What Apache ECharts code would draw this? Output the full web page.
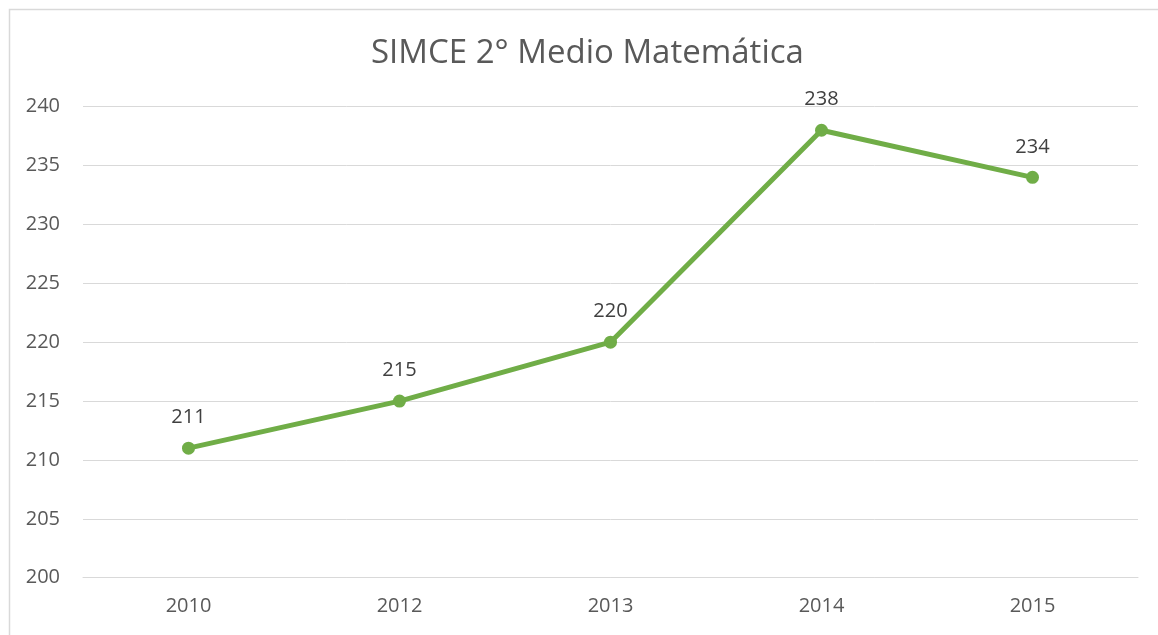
<!DOCTYPE html>
<html>
<head>
<meta charset="utf-8">
<script src="https://cdn.jsdelivr.net/npm/echarts@6/dist/echarts.min.js"></script>
<style>html,body{margin:0;padding:0;background:#fff}#c{width:1158px;height:635px}</style>
</head>
<body>
<div id="c"></div>
<script>
const titleText = 'SIMCE 2° Medio Matemática';
const years = ['2010', '2012', '2013', '2014', '2015'];
const scores = [211, 215, 220, 238, 234];
const yMin = 200, yMax = 240, yStep = 5;

const chart = echarts.init(document.getElementById('c'), null, {renderer: 'canvas'});
const font = '"Open Sans", "Liberation Sans", sans-serif';
chart.setOption({
  backgroundColor: '#ffffff',
  animation: false,
  graphic: [{
    type: 'rect', left: 7, top: 7, silent: true,
    shape: {x: 0, y: 0, width: 1300, height: 800},
    style: {fill: 'none', stroke: '#d9d9d9', lineWidth: 1.5}
  }],
  title: {
    text: titleText, left: 366, top: 32,
    textStyle: {fontFamily: font, fontSize: 33, fontWeight: 'normal', color: '#595959'}
  },
  grid: {left: 83, right: 20, top: 106.7, bottom: 57.3, containLabel: false},
  xAxis: {
    type: 'category', data: years, boundaryGap: true,
    axisLine: {lineStyle: {color: '#d9d9d9', width: 1}},
    axisTick: {show: false},
    axisLabel: {fontFamily: font, fontSize: 20, color: '#595959', margin: 19}
  },
  yAxis: {
    type: 'value', min: yMin, max: yMax, interval: yStep,
    axisLine: {show: false}, axisTick: {show: false},
    splitLine: {lineStyle: {color: '#d9d9d9', width: 1}},
    axisLabel: {fontFamily: font, fontSize: 20, color: '#595959', margin: 23}
  },
  series: [{
    type: 'line', data: scores,
    symbol: 'circle', symbolSize: 13,
    lineStyle: {color: '#70ad47', width: 5},
    itemStyle: {color: '#70ad47'},
    label: {show: true, position: 'top', distance: 14, fontFamily: font, fontSize: 20, color: '#404040'}
  }]
});
</script>
</body>
</html>
